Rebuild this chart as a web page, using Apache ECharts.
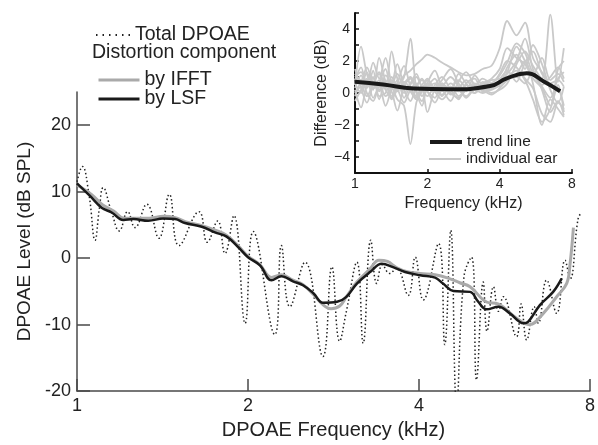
<!DOCTYPE html>
<html><head><meta charset="utf-8">
<script src="https://cdn.jsdelivr.net/npm/echarts@6/dist/echarts.min.js"></script>
<style>html,body{margin:0;padding:0;background:#fff}#c{width:598px;height:445px}</style>
</head><body><div id="c"></div>
<script>
// ---- main panel data ----
const totalF = [1.00,1.022,1.05,1.076,1.095,1.112,1.15,1.187,1.228,1.265,1.327,1.394,1.454,1.512,1.64,1.696,1.769,1.822,1.889,1.977,2.043,2.23,2.29,2.37,2.52,2.71,2.81,2.90,2.98,3.11,3.19,3.29,3.37,3.45,3.55,3.65,3.83,3.94,4.07,4.33,4.44,4.55,4.66,4.80,4.95,5.05,5.19,5.27,5.41,5.52,5.63,5.94,6.05,6.19,6.38,6.49,6.71,6.99,7.23,7.38,7.63,7.75];
const totalV = [11.5,13.8,9.5,2.7,7.5,10.6,7.0,4.1,7.0,4.6,8.1,3.0,9.6,1.9,7.0,2.4,5.6,0.7,6.4,-9.8,4.0,-11.5,1.9,-7.3,-0.6,-14.8,-1.3,-12.5,-8.0,-0.6,-12.8,2.7,-3.8,-1.0,-2.3,-1.5,-5.6,0.15,-6.3,2.2,-13.0,4.2,-22,-2.8,0.15,-18.3,-3.6,-11.0,-4.3,-8.0,-5.8,-11.8,-6.9,-12.3,-7.3,-9.8,-3.3,-8.3,-0.3,-3.1,6.1,6.8];
const ifftF = [1.0,1.06,1.11,1.16,1.21,1.26,1.34,1.42,1.49,1.55,1.66,1.75,1.83,1.92,2.0,2.10,2.20,2.29,2.40,2.50,2.61,2.71,2.80,2.90,2.98,3.11,3.28,3.40,3.52,3.65,3.80,4.02,4.27,4.50,4.72,4.92,5.26,5.52,5.94,6.26,6.62,6.99,7.28,7.38,7.48];
const ifftV = [11.0,9.6,8.0,7.1,6.0,6.0,6.0,6.3,6.1,5.5,4.9,4.2,3.5,1.9,0.3,-1.0,-2.9,-2.5,-3.3,-4.0,-5.5,-7.0,-7.6,-7.2,-5.8,-3.6,-1.6,-0.3,-0.5,-1.4,-2.0,-2.3,-2.5,-3.0,-3.7,-4.3,-6.6,-6.9,-9.05,-10.0,-8.3,-5.8,-3.8,-0.8,4.6];
const lsfF = [1.0,1.054,1.105,1.151,1.206,1.256,1.335,1.419,1.488,1.549,1.658,1.749,1.834,1.923,2.0,2.10,2.20,2.29,2.40,2.50,2.61,2.71,2.87,2.98,3.11,3.28,3.44,3.60,3.78,4.02,4.27,4.41,4.60,4.92,5.08,5.26,5.52,5.78,6.11,6.23,6.53,6.89,7.13];
const lsfV = [11.25,9.36,7.6,6.87,5.73,5.88,5.63,5.97,5.88,5.28,4.73,3.88,3.24,1.64,0.15,-1.09,-3.33,-2.73,-3.48,-4.07,-5.31,-6.71,-6.57,-5.82,-3.82,-2.09,-0.84,-1.34,-2.09,-2.58,-2.93,-3.82,-4.93,-5.07,-6.5,-7.70,-7.31,-8.30,-9.79,-9.55,-7.06,-5.07,-3.07];
const mainXTicks = [1,2,4,8];
const mainYTicks = [-20,-10,0,10,20];

// ---- inset data ----
const trendF = [1.0,1.31,1.75,2.49,3.65,4.28,5.19,6.08,7.14];
const trendV = [0.7,0.53,0.28,0.23,0.44,0.91,1.23,0.74,0.11];
const earF = [1.0,1.06,1.12,1.19,1.26,1.34,1.42,1.5,1.6,1.7,1.8,1.9,2.0,2.15,2.3,2.5,2.7,2.9,3.15,3.4,3.7,4.0,4.3,4.7,5.1,5.5,6.0,6.5,7.0,7.4];
const ear1 = [0.5,2.9,1.2,0.3,0.8,0.2,-0.3,0.4,1.0,3.4,0.2,-0.5,0.3,0.6,-0.2,0.4,0.1,0.5,0.2,0.6,0.9,1.5,2.8,2.2,1.8,0.9,0.3,-0.8,1.5,2.0];
const ear2 = [1.2,0.8,1.6,0.6,0.2,1.1,0.5,-0.4,-0.8,-3.2,-0.6,0.1,0.8,0.2,0.6,0.0,-0.3,0.2,0.5,0.3,0.4,0.8,1.2,2.0,3.4,1.5,0.2,-1.2,-0.5,-1.4];
const ear3 = [0.0,0.4,-0.2,0.6,1.2,0.3,0.8,0.5,1.1,1.4,1.8,2.1,2.4,2.2,1.9,1.6,1.3,1.1,1.2,1.5,1.7,2.8,4.5,3.6,4.4,2.2,1.3,0.6,0.8,0.4];
const ear4 = [0.8,1.6,0.4,1.9,0.9,2.2,0.6,0.1,0.7,0.3,-0.2,0.5,0.9,0.1,-0.4,0.2,0.8,0.3,0.0,0.4,0.6,1.1,1.9,3.1,2.5,1.2,0.4,-0.3,0.9,1.3];
const ear5 = [-0.5,0.2,0.9,-0.3,0.4,-0.8,0.3,1.2,0.2,-0.5,0.4,0.9,0.1,-0.6,0.3,1.0,0.4,-0.3,0.2,0.0,0.3,0.6,1.0,1.4,0.8,-0.4,-1.8,-1.0,0.5,-1.2];
const ear6 = [1.5,0.3,-0.6,0.5,1.3,0.4,2.6,0.9,0.0,0.6,1.2,0.3,-0.2,0.5,1.0,0.2,-0.4,0.6,0.9,0.1,0.2,0.5,1.6,2.4,1.5,3.0,1.8,0.2,-0.6,0.4];
const ear7 = [0.2,-0.9,0.5,1.0,-0.4,0.6,0.1,-1.1,0.4,0.9,0.0,-0.8,0.6,1.4,0.3,-0.5,0.7,1.3,0.5,0.2,-0.1,0.3,0.8,1.2,2.0,0.6,-2.0,-0.4,-1.0,-1.5];
const ear8 = [0.9,0.5,1.3,0.2,2.2,0.7,-0.2,0.6,1.7,0.4,-0.3,0.2,-1.2,0.3,0.8,1.5,0.6,0.1,1.1,0.4,0.0,0.2,0.6,1.8,2.6,1.7,0.9,4.9,0.7,2.8];
const ear9 = [0.3,1.1,0.0,-0.5,0.6,1.5,0.2,0.8,-0.3,0.5,1.0,0.4,0.1,-0.3,0.5,0.2,1.2,0.6,0.0,0.7,0.5,0.4,0.9,1.0,0.6,1.4,0.5,1.0,1.6,0.9];
const ear10 = [-0.2,0.6,0.3,1.4,-0.2,0.0,1.0,0.3,-0.6,0.2,0.6,-0.2,0.4,0.9,0.1,0.6,0.2,-0.2,0.4,0.9,0.6,1.2,2.0,1.6,0.9,0.3,-1.3,-1.8,-0.6,-1.0];
const ear11 = [0.6,0.0,0.8,0.3,0.5,-0.2,0.4,1.8,0.5,0.1,-0.4,0.3,0.6,0.2,-0.1,0.4,-0.2,0.3,0.6,0.2,0.3,0.7,1.3,2.9,2.0,1.1,2.2,0.8,1.2,0.7];
const ear12 = [1.0,1.3,0.7,0.9,0.1,0.8,-0.4,0.2,0.6,1.0,0.5,0.8,0.3,0.1,0.6,-0.1,0.3,0.8,0.2,0.5,0.8,0.9,1.4,0.7,1.9,2.6,1.2,0.5,0.3,-0.8];
const ears = [ear1,ear2,ear3,ear4,ear5,ear6,ear7,ear8,ear9,ear10,ear11,ear12];
const insetXTicks = [1,2,4,8];

const zip = (a,b) => a.map((x,i)=>[x,b[i]]);
const FONT = 'Liberation Sans, Arial, sans-serif';
const AX = '#4a4a4a';

const earSeries = ears.map(e => ({
  name:'individual ear', type:'line', xAxisIndex:1, yAxisIndex:1, data: zip(earF,e),
  symbol:'none', smooth:0.3, lineStyle:{color:'#c9c9c9', width:1.8}, itemStyle:{color:'#c9c9c9'}, z:2, silent:true
}));

const noSym = {opacity:0, borderWidth:0};
const legText = (fs, lh) => ({fontSize:fs, color:'#222', fontFamily:FONT, lineHeight:lh});

const option = {
  animation:false,
  backgroundColor:'#fff',
  textStyle:{fontFamily:FONT},
  grid:[
    {left:77, right:8, top:92, bottom:53},
    {left:355, right:26, top:13, bottom:272}
  ],
  xAxis:[
    {type:'log', logBase:2, min:1, max:8, gridIndex:0,
     name:'DPOAE Frequency (kHz)', nameLocation:'middle', nameGap:28,
     nameTextStyle:{fontSize:20, color:'#222', fontFamily:FONT},
     axisLine:{onZero:false, lineStyle:{color:AX, width:1.5}},
     axisTick:{inside:true, length:12, lineStyle:{color:AX, width:1.5}},
     minorTick:{show:false}, splitLine:{show:false},
     axisLabel:{fontSize:18, color:'#222', margin:6, formatter:v=>String(v)}},
    {type:'log', logBase:2, min:1, max:8, gridIndex:1,
     name:'Frequency (kHz)', nameLocation:'middle', nameGap:23,
     nameTextStyle:{fontSize:16, color:'#222', fontFamily:FONT},
     axisLine:{onZero:false, lineStyle:{color:'#111', width:2}},
     axisTick:{inside:true, length:4, lineStyle:{color:'#111', width:1.5}},
     splitLine:{show:false},
     axisLabel:{fontSize:14, color:'#222', margin:4, formatter:v=>String(v)}}
  ],
  yAxis:[
    {type:'value', min:-20, max:25, interval:10, gridIndex:0,
     name:'DPOAE Level (dB SPL)', nameLocation:'middle', nameGap:43,
     nameTextStyle:{fontSize:19, color:'#222', fontFamily:FONT},
     axisLine:{show:true, onZero:false, lineStyle:{color:AX, width:1.5}},
     axisTick:{show:true, inside:true, length:13, customValues:mainYTicks, lineStyle:{color:AX, width:1.5}},
     splitLine:{show:false},
     axisLabel:{fontSize:18, color:'#222', margin:6, customValues:mainYTicks, formatter:v=>String(v)}},
    {type:'value', min:-5, max:5, interval:1, gridIndex:1,
     name:'Difference (dB)', nameLocation:'middle', nameGap:25,
     nameTextStyle:{fontSize:16, color:'#222', fontFamily:FONT},
     axisLine:{show:true, onZero:false, lineStyle:{color:'#111', width:2}},
     axisTick:{show:true, inside:true, length:4, lineStyle:{color:'#111', width:1.5}},
     splitLine:{show:false},
     axisLabel:{fontSize:14, color:'#222', margin:5,
       formatter:v=> (Math.round(v)%2===0 && Math.abs(v)<5) ? (v<0 ? '\u2212'+(-v) : String(v)) : ''}}
  ],
  legend:[
    {data:['Total DPOAE'], left:90, top:20, itemWidth:34, itemHeight:14, itemGap:6, itemStyle:noSym,
     lineStyle:{width:2, type:[1.5,5]},
     textStyle:legText(19.5,20), selectedMode:false},
    {data:['by IFFT'], left:92, top:65, itemWidth:41, itemHeight:12, itemStyle:noSym,
     lineStyle:{width:3},
     textStyle:legText(19.5,17), selectedMode:false},
    {data:['by LSF'], left:92, top:84, itemWidth:41, itemHeight:12, itemStyle:noSym,
     lineStyle:{width:3},
     textStyle:legText(19.5,17), selectedMode:false},
    {data:['trend line'], left:423, top:129, itemWidth:32, itemHeight:10, itemGap:1, itemStyle:noSym,
     lineStyle:{width:4},
     textStyle:legText(15.5,16), selectedMode:false},
    {data:['individual ear'], left:423, top:146, itemWidth:32, itemHeight:10, itemGap:1, itemStyle:noSym,
     lineStyle:{width:2},
     textStyle:legText(15.5,16), selectedMode:false}
  ],
  graphic:[
    {type:'text', left:92, top:43, style:{text:'Distortion component', fontSize:19.5, fill:'#222', fontFamily:FONT}}
  ],
  series:[
    {name:'Total DPOAE', type:'line', xAxisIndex:0, yAxisIndex:0, data:zip(totalF,totalV),
     symbol:'none', smooth:0.45, clip:true,
     lineStyle:{color:'#222', width:1.5, type:[1.5,2.5]}, itemStyle:{color:'#222'}, z:2},
    {name:'by IFFT', type:'line', xAxisIndex:0, yAxisIndex:0, data:zip(ifftF,ifftV),
     symbol:'none', smooth:0.4, lineStyle:{color:'#aaaaaa', width:3}, itemStyle:{color:'#aaaaaa'}, z:3},
    {name:'by LSF', type:'line', xAxisIndex:0, yAxisIndex:0, data:zip(lsfF,lsfV),
     symbol:'none', smooth:0.4, lineStyle:{color:'#1a1a1a', width:2.5}, itemStyle:{color:'#1a1a1a'}, z:4},
    ...earSeries,
    {name:'trend line', type:'line', xAxisIndex:1, yAxisIndex:1, data:zip(trendF,trendV),
     symbol:'none', smooth:0.5, lineStyle:{color:'#1a1a1a', width:4}, itemStyle:{color:'#1a1a1a'}, z:5}
  ]
};
const chart = echarts.init(document.getElementById('c'), null, {renderer:'canvas'});
chart.setOption(option);
</script></body></html>
